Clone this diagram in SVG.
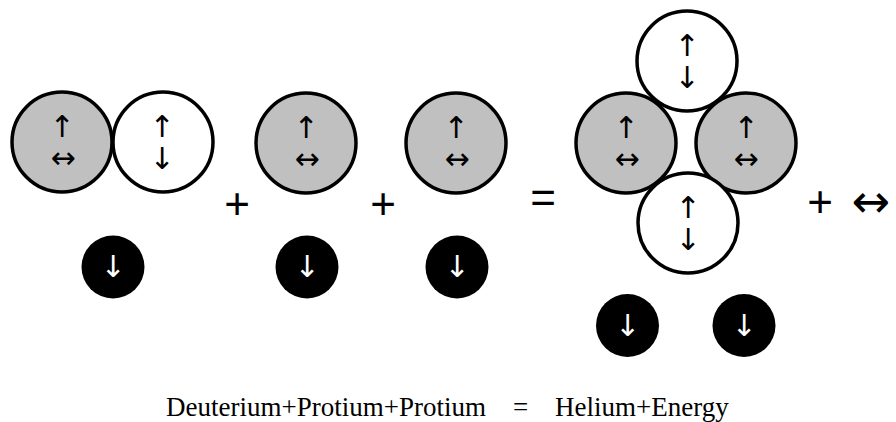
<svg xmlns="http://www.w3.org/2000/svg" width="896" height="422" viewBox="0 0 896 422">
<style>
.p{stroke:#000;stroke-width:3.5}
.g{fill:#c0c0c0}
.w{fill:#fff}
.b{fill:#000}
.a{font-family:"DejaVu Sans",sans-serif;font-size:30px;text-anchor:middle;fill:#000}
.aw{font-family:"DejaVu Sans",sans-serif;font-size:30px;text-anchor:middle;fill:#fff}
.op{font-family:"Liberation Sans",Arial,sans-serif;font-size:44px;text-anchor:middle;fill:#000}
</style>
<rect width="896" height="422" fill="#fff"/>
<g id="deuterium-proton"><circle class="p g" cx="62" cy="142" r="50"/><text class="a" x="62" y="137">↑&#xFE0E;</text><text class="a" x="63" y="168">↔&#xFE0E;</text></g>
<g id="deuterium-neutron"><circle class="p w" cx="163" cy="142" r="50"/><text class="a" x="162" y="137">↑&#xFE0E;</text><text class="a" x="162" y="169">↓&#xFE0E;</text></g>
<g id="deuterium-electron"><circle class="b" cx="113" cy="267" r="31.5"/><text class="aw" x="113" y="277">↓&#xFE0E;</text></g>
<g id="plus1"><text class="op" x="237" y="219">+</text></g>
<g id="protium1-proton"><circle class="p g" cx="306" cy="143" r="50"/><text class="a" x="306" y="138">↑&#xFE0E;</text><text class="a" x="307" y="169">↔&#xFE0E;</text></g>
<g id="protium1-electron"><circle class="b" cx="307" cy="267" r="31.5"/><text class="aw" x="307" y="277">↓&#xFE0E;</text></g>
<g id="plus2"><text class="op" x="383" y="219">+</text></g>
<g id="protium2-proton"><circle class="p g" cx="456" cy="143" r="50"/><text class="a" x="456" y="138">↑&#xFE0E;</text><text class="a" x="457" y="169">↔&#xFE0E;</text></g>
<g id="protium2-electron"><circle class="b" cx="457" cy="267" r="31.5"/><text class="aw" x="457" y="277">↓&#xFE0E;</text></g>
<g id="equals"><text class="op" x="543" y="213">=</text></g>
<g id="helium-neutron-top"><circle class="p w" cx="687" cy="61" r="50"/><text class="a" x="687" y="56">↑&#xFE0E;</text><text class="a" x="687" y="88">↓&#xFE0E;</text></g>
<g id="helium-proton-left"><circle class="p g" cx="626" cy="143" r="50"/><text class="a" x="626" y="138">↑&#xFE0E;</text><text class="a" x="627" y="169">↔&#xFE0E;</text></g>
<g id="helium-proton-right"><circle class="p g" cx="746" cy="143" r="50"/><text class="a" x="746" y="138">↑&#xFE0E;</text><text class="a" x="746" y="169">↔&#xFE0E;</text></g>
<g id="helium-neutron-bottom"><circle class="p w" cx="688" cy="223" r="50"/><text class="a" x="688" y="218">↑&#xFE0E;</text><text class="a" x="688" y="250">↓&#xFE0E;</text></g>
<g id="helium-electron-left"><circle class="b" cx="627.5" cy="325.5" r="31.5"/><text class="aw" x="627.5" y="335.5">↓&#xFE0E;</text></g>
<g id="helium-electron-right"><circle class="b" cx="744" cy="325.5" r="31.5"/><text class="aw" x="744" y="335.5">↓&#xFE0E;</text></g>
<g id="plus3"><text class="op" x="820" y="217">+</text></g>
<g id="energy"><text class="a" x="871" y="217" style="font-size:46px">↔&#xFE0E;</text></g>
<g id="caption"><text font-family="'Liberation Serif', 'Times New Roman', serif" font-size="27" fill="#000" y="416"><tspan x="166">Deuterium+Protium+Protium</tspan><tspan x="513">=</tspan><tspan x="555">Helium+Energy</tspan></text></g>
</svg>
